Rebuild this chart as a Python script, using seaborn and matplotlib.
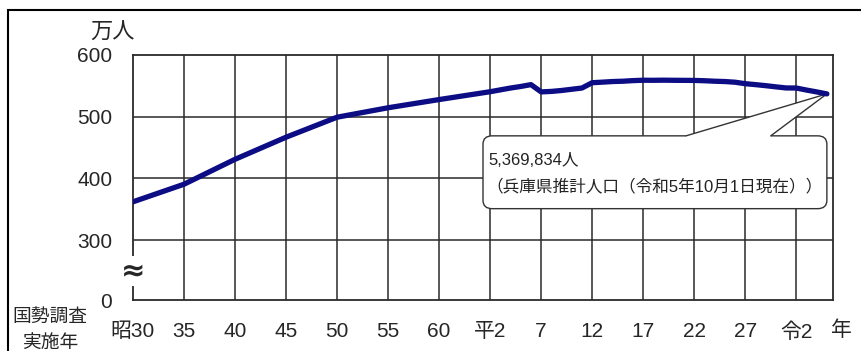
import numpy as np
import pandas as pd
import matplotlib
matplotlib.use("Agg")
import matplotlib.pyplot as plt
import seaborn as sns
from matplotlib.patches import Rectangle, FancyBboxPatch, Polygon

# 兵庫県の人口（万人）
years = [1955, 1960, 1965, 1970, 1975, 1980, 1985, 1990, 1991, 1992, 1993, 1994,
         1995, 1996, 1997, 1998, 1999, 2000, 2001, 2002, 2003, 2004, 2005, 2006,
         2007, 2008, 2009, 2010, 2011, 2012, 2013, 2014, 2015, 2016, 2017, 2018,
         2019, 2020, 2021, 2022, 2023]
population = [362.1, 390.6, 431.0, 466.8, 499.2, 514.5, 527.8, 540.5, 543.5, 546.5,
              549.0, 552.0, 540.2, 541.0, 542.5, 544.5, 546.5, 555.1, 556.0, 557.0,
              557.5, 558.5, 559.1, 559.0, 559.2, 559.0, 558.9, 558.8, 558.3, 557.5,
              557.0, 555.9, 553.5, 552.0, 550.3, 548.4, 546.6, 546.5, 543.2, 540.2,
              537.0]

tick_years = [1955, 1960, 1965, 1970, 1975, 1980, 1985, 1990, 1995, 2000, 2005,
              2010, 2015, 2020]
tick_labels = ["昭30", "35", "40", "45", "50", "55", "60", "平2", "7", "12", "17",
               "22", "27", "令2"]
y_ticks = [203, 300, 400, 500, 600]
y_labels = ["0", "300", "400", "500", "600"]

callout_lines = ["5,369,834人", "（兵庫県推計人口（令和5年10月1日現在））"]

sns.set_style("white")
plt.rcParams['font.family'] = ['Liberation Sans', 'Noto Sans CJK JP', 'DejaVu Sans']

df = pd.DataFrame({'年': years, '人口': population})

fig = plt.figure(figsize=(8.61, 3.51), dpi=100)
ax = fig.add_axes([133 / 861, 1 - 300 / 351, 700 / 861, 245 / 351])

sns.lineplot(data=df, x='年', y='人口', ax=ax, color='#0c0c84', linewidth=3.8,
             zorder=6, solid_capstyle='round')

ax.set_xlim(1955, 2023.6)
ax.set_ylim(203, 600)
ax.set_xticks(tick_years)
ax.set_xticklabels(tick_labels, fontsize=15)
ax.set_yticks(y_ticks)
ax.set_yticklabels(y_labels, fontsize=15)
ax.tick_params(axis='both', length=0)
ax.tick_params(axis='x', pad=16)
ax.tick_params(axis='y', pad=15)
ax.set_xlabel('')
ax.set_ylabel('')

# grid
for x in tick_years[1:]:
    ax.axvline(x, color='#2a2a2a', lw=1.1, zorder=1)
for y in [300, 400, 500]:
    ax.axhline(y, color='#2a2a2a', lw=1.1, zorder=1)
for s in ax.spines.values():
    s.set_color('#2a2a2a')
    s.set_linewidth(1.3)

# axis break mark
ax.text(0, 250, "≈", transform=ax.get_yaxis_transform(), ha='center', va='center',
        fontsize=21, fontweight='bold', family='DejaVu Sans',
        bbox=dict(fc='white', ec='none', pad=0.5), zorder=7, clip_on=False)

# callout
box = FancyBboxPatch((1989.3, 351), 2023.0 - 1989.3, 469 - 351,
                     boxstyle="round,pad=0,rounding_size=0.9", mutation_aspect=15,
                     fc='white', ec='#333333', lw=1.0, zorder=3)
ax.add_patch(box)
tip = (years[-1], population[-1])
ax.add_patch(Polygon([(2009.2, 466), (2009.2, 469), tip, (2017.5, 469), (2017.5, 466)],
                     closed=True, fc='white', ec='none', zorder=4))
ax.plot([2009.2, tip[0], 2017.5], [469, tip[1], 469], color='#333333', lw=1.0, zorder=5)
ax.text(1989.8, 429, callout_lines[0], fontsize=12, va='center', ha='left',
        color='#222222', zorder=6)
ax.text(1989.6, 387, callout_lines[1], fontsize=12, va='center', ha='left',
        color='#222222', zorder=6)

# labels outside the axes
fig.text(112 / 861, 1 - 33 / 351, "万人", fontsize=16, ha='center', va='center')
fig.text(50 / 861, 1 - 317 / 351, "国勢調査", fontsize=13.5, ha='center', va='center')
fig.text(50 / 861, 1 - 343 / 351, "実施年", fontsize=13.5, ha='center', va='center')
fig.text(841 / 861, 1 - 330 / 351, "年", fontsize=15, ha='center', va='center')

# outer frame
fig.patches.append(Rectangle((8 / 861, -0.2), 1.0, 1.2 - 10.5 / 351,
                             transform=fig.transFigure, fill=False, ec='black', lw=1.5))

fig.savefig('out.png', dpi=100)
